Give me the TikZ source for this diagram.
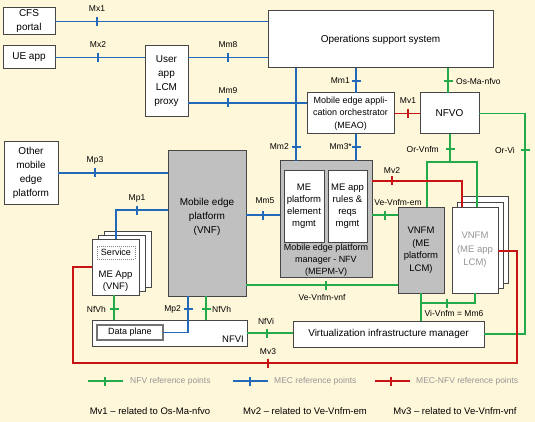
\documentclass[tikz,border=0pt]{standalone}
\usepackage{fontspec}
\setmainfont{Liberation Sans}
\usetikzlibrary{calc}
\definecolor{bgc}{RGB}{255,247,218}
\definecolor{mecblue}{RGB}{35,105,185}
\definecolor{nfvgreen}{RGB}{35,170,75}
\definecolor{mvred}{RGB}{200,20,20}
\definecolor{boxgray}{RGB}{192,192,192}
\definecolor{edgec}{RGB}{70,70,70}
\definecolor{legtext}{RGB}{150,150,150}
\newcommand\bxat[7]{\node[#6, anchor=north west, minimum width={(#4-#2)*1pt}, minimum height={(#5-#3)*1pt}] (#1) at (#2,#3) {#7};}
\newcommand\tkv[3]{\draw[#1] (#2,#3-4.5) -- (#2,#3+4.5);}
\newcommand\tkh[3]{\draw[#1] (#2-4.5,#3) -- (#2+4.5,#3);}
\tikzset{
 box/.style={draw=edgec, line width=1pt, fill=white, inner sep=0pt, outer sep=0pt, align=center, font=\fontsize{10}{14}\selectfont},
 gbox/.style={box, fill=boxgray},
 sbox/.style={box, font=\fontsize{9}{12.5}\selectfont},
 bl/.style={mecblue, line width=1.8pt},
 gr/.style={nfvgreen, line width=1.8pt},
 rd/.style={mvred, line width=1.8pt},
 lbl/.style={font=\fontsize{8.5}{9}\selectfont, inner sep=0pt},
 txt/.style={align=center, inner sep=0pt},
 leg/.style={font=\fontsize{8.5}{10}\selectfont, text=legtext, inner sep=0pt, anchor=west},
 foot/.style={font=\fontsize{9.5}{11}\selectfont, inner sep=0pt},
}
\begin{document}
\begin{tikzpicture}[x=1pt,y=-1pt]
\useasboundingbox (0,0) rectangle (535,422);
\fill[bgc] (0,0) rectangle (535,422);

% column / row coordinates
\coordinate (x296) at (296,0);
\coordinate (x356) at (356,0);
\coordinate (x448) at (448,0);
\coordinate (x450) at (450,0);
\coordinate (x427) at (427,0);
\coordinate (x477) at (477,0);
\coordinate (x462) at (462,0);
\coordinate (x421) at (421,0);
\coordinate (x475) at (475,0);
\coordinate (x116) at (116,0);
\coordinate (x114) at (114,0);
\coordinate (x188) at (188,0);
\coordinate (x206) at (206,0);
\coordinate (y103) at (0,103);
\coordinate (y181) at (0,181);
\coordinate (y215) at (0,215);
\coordinate (y210) at (0,210);
\coordinate (y285) at (0,285);
\coordinate (y267) at (0,267);
\coordinate (y251) at (0,251);

% boxes
\bxat{cfs}{3}{8}{55}{35}{box}{CFS\\portal}
\bxat{ue}{3}{46}{55}{69}{box}{UE app}
\bxat{proxy}{145}{46}{188}{117}{box}{User\\app\\LCM\\proxy}
\bxat{oss}{268}{11}{493}{68}{box}{Operations support system}
\bxat{meao}{307}{93}{394}{134}{sbox}{Mobile edge appli-\\cation orchestrator\\(MEAO)}
\bxat{nfvo}{420}{93}{479}{134}{box}{NFVO}
\bxat{other}{4}{142}{58}{204}{box}{Other\\mobile\\edge\\platform}
\bxat{mep}{168}{151}{246}{296}{gbox}{}
\node[txt, font=\fontsize{10}{14}\selectfont] (meptxt) at (207,217) {Mobile edge\\platform\\(VNF)};
\bxat{mepm}{280}{161}{372}{277}{gbox}{}
\bxat{pem}{284}{171}{324}{242}{box, font=\fontsize{9.5}{12}\selectfont}{ME\\platform\\element\\mgmt}
\bxat{rules}{328}{171}{367}{242}{box, font=\fontsize{9.5}{12}\selectfont}{ME app\\rules \&\\reqs\\mgmt}
\node[txt, font=\fontsize{9}{12}\selectfont] (mepmtxt) at (326,260) {Mobile edge platform\\manager - NFV\\(MEPM-V)};
\bxat{vnfm1}{398}{207}{444}{293}{gbox, font=\fontsize{9.5}{12.5}\selectfont}{VNFM\\(ME\\platform\\LCM)}
\bxat{vnfmb2}{462}{197}{508}{283}{box}{}
\bxat{vnfmb1}{457}{202}{503}{288}{box}{}
\bxat{vnfm2}{452}{207}{498}{293}{box, text=legtext, font=\fontsize{9.5}{13.5}\selectfont}{VNFM\\(ME app\\LCM)}
\bxat{meappb2}{104}{231}{151}{287}{box}{}
\bxat{meappb1}{98}{235}{145}{291}{box}{}
\bxat{meapp}{92}{239}{139}{295}{box}{}
\bxat{svc}{97}{246}{135}{259}{box, draw=gray, densely dotted, line width=0.7pt, font=\fontsize{9}{10}\selectfont}{Service}
\node[txt, font=\fontsize{9.5}{12}\selectfont] (meapptxt) at (115.5,281) {ME App\\(VNF)};
\bxat{nfvi}{92}{320}{247}{346}{box}{}
\node[inner sep=0pt, anchor=east, font=\fontsize{9.5}{11}\selectfont] (nfvitxt) at (244,339) {NFVI};
\bxat{dp}{97}{325}{163}{340}{box, draw=gray!90!black, line width=1.4pt, font=\fontsize{9}{10}\selectfont}{Data plane}
\bxat{vim}{293}{321}{484}{347}{box}{Virtualization infrastructure manager}

% connectors
\draw[bl] (cfs.east) -- (cfs.east -| oss.west);
\tkv{bl}{97}{21.5}
\node[lbl] at (97,9) {Mx1};
\draw[bl] (ue.east) -- (ue.east -| proxy.west);
\tkv{bl}{98}{57.5}
\node[lbl] at (98,45) {Mx2};
\draw[bl] (proxy.east |- ue.east) -- (oss.west |- ue.east);
\tkv{bl}{228}{57.5}
\node[lbl] at (228,45) {Mm8};
\draw[bl] (proxy.east |- y103) -- (meao.west |- y103);
\tkv{bl}{228}{103}
\node[lbl] at (228,91) {Mm9};
\draw[bl] (oss.south -| x296) -- (mepm.north -| x296);
\tkh{bl}{296}{147}
\node[lbl, anchor=east] at (289,147) {Mm2};
\draw[bl] (oss.south -| x356) -- (meao.north -| x356);
\tkh{bl}{356}{81}
\node[lbl, anchor=east] at (350,81) {Mm1};
\draw[bl] (meao.south -| x356) -- (mepm.north -| x356);
\tkh{bl}{356}{147}
\node[lbl, anchor=east] at (352,147) {Mm3*};
\draw[gr] (oss.south -| x448) -- (nfvo.north -| x448);
\tkh{gr}{448}{81}
\node[lbl, anchor=west] at (456,81) {Os-Ma-nfvo};
\draw[rd] (meao.east) -- (nfvo.west);
\tkv{rd}{408}{113.5}
\node[lbl] at (408,101) {Mv1};
\draw[gr] (nfvo.south -| x450) -- (450,162);
\draw[gr] (vnfm1.north -| x427) |- (477,162) -- (vnfm2.north -| x477);
\tkh{gr}{450}{149}
\node[lbl, anchor=east] at (439,149) {Or-Vnfm};
\draw[gr] (nfvo.east) -| ($(vim.east)+(41,0)$) -- (vim.east);
\tkh{gr}{525}{150}
\node[lbl, anchor=east] at (515,150) {Or-Vi};
\draw[rd] (mepm.east |- y181) -| (vnfm2.north -| x462);
\tkv{rd}{392}{181}
\node[lbl] at (392,171) {Mv2};
\draw[gr] (mepm.east |- y215) -- (vnfm1.west |- y215);
\tkv{gr}{385}{215}
\node[lbl] at (398,202) {Ve-Vnfm-em};
\draw[bl] (mep.east |- y215) -- (mepm.west |- y215);
\tkv{bl}{263}{215}
\node[lbl] at (265,201) {Mm5};
\draw[bl] (other.east) -- (other.east -| mep.west);
\tkv{bl}{95}{173}
\node[lbl] at (95,160) {Mp3};
\draw[bl] (mep.west |- y210) -| (meapp.north -| x116);
\tkv{bl}{137}{210}
\node[lbl] at (137,198) {Mp1};
\draw[gr] (mep.east |- y285) -- (vnfm1.west |- y285);
\tkv{gr}{326}{285}
\node[lbl] at (322,297) {Ve-Vnfm-vnf};
\draw[gr] (vnfm1.south -| x421) -- (vim.north -| x421);
\draw[gr] (421,303) -| (vnfm2.south -| x475);
\tkv{gr}{447}{303}
\node[lbl] at (454,313) {Vi-Vnfm = Mm6};
\draw[gr] (meapp.south -| x114) -- (nfvi.north -| x114);
\tkh{gr}{114}{309}
\node[lbl, anchor=east] at (106,309) {NfVh};
\draw[bl] (mep.south -| x188) |- (dp.east);
\tkh{bl}{188}{309}
\node[lbl, anchor=east] at (181,309) {Mp2};
\draw[gr] (mep.south -| x206) -- (nfvi.north -| x206);
\tkh{gr}{206}{309}
\node[lbl, anchor=west] at (212,309) {NfVh};
\draw[gr] (nfvi.east) -- (nfvi.east -| vim.west);
\tkv{gr}{267}{333}
\node[lbl] at (266,321) {NfVi};
\draw[rd] (meapp.west |- y267) -| (73,363) -| (517,251) -- (vnfm2.east |- y251);
\tkv{rd}{268}{363}
\node[lbl] at (268,352) {Mv3};

% legend
\coordinate (lg1a) at (88,381); \coordinate (lg1b) at (123,381);
\draw[gr] (lg1a) -- (lg1b);
\tkv{gr}{105}{381}
\node[leg] at (130,381) {NFV reference points};
\coordinate (lg2a) at (233,381); \coordinate (lg2b) at (268,381);
\draw[bl] (lg2a) -- (lg2b);
\tkv{bl}{250}{381}
\node[leg] at (274,381) {MEC reference points};
\coordinate (lg3a) at (375,381); \coordinate (lg3b) at (410,381);
\draw[rd] (lg3a) -- (lg3b);
\tkv{rd}{391}{381}
\node[leg] at (416,381) {MEC-NFV reference points};

% footnotes
\node[foot] at (150,411) {Mv1 – related to Os-Ma-nfvo};
\node[foot] at (305,411) {Mv2 – related to Ve-Vnfm-em};
\node[foot] at (455,411) {Mv3 – related to Ve-Vnfm-vnf};
\end{tikzpicture}
\end{document}
